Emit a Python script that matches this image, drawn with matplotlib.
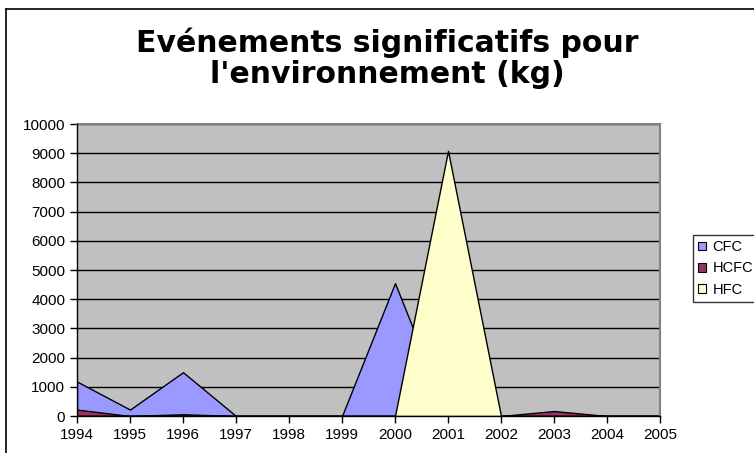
import matplotlib.pyplot as plt
from matplotlib.patches import Patch
from matplotlib.lines import Line2D

years = [1994, 1995, 1996, 1997, 1998, 1999, 2000, 2001, 2002, 2003, 2004, 2005]
cfc = [1180, 220, 1500, 0, 0, 0, 4550, 0, 0, 0, 0, 0]
hcfc = [220, 0, 60, 0, 0, 0, 0, 0, 0, 170, 0, 0]
hfc = [0, 0, 0, 0, 0, 0, 0, 9080, 0, 0, 0, 0]

series_names = ['CFC', 'HCFC', 'HFC']
series_colors = ['#9999FF', '#993366', '#FFFFCC']
y_ticks = list(range(0, 10001, 1000))

TITLE = "Evénements significatifs pour\nl'environnement (kg)"
TICK_FONT = 'Liberation Sans'

fig = plt.figure(figsize=(7.54, 4.53), dpi=100)
ax = fig.add_axes([77 / 754, 1 - 416 / 453, 583 / 754, 292 / 453])

ax.set_facecolor('#C0C0C0')
for vals, color in zip([cfc, hcfc, hfc], series_colors):
    ax.fill_between(years, vals, 0, facecolor=color, edgecolor='black', linewidth=1.0, zorder=2)

ax.set_xlim(years[0], years[-1])
ax.set_ylim(0, 10000)
ax.set_xticks(years)
ax.set_yticks(y_ticks)
ax.set_axisbelow(True)
ax.yaxis.grid(True, color='black', linewidth=1.0)
ax.xaxis.grid(False)

for side in ['top', 'right']:
    ax.spines[side].set_color('#808080')
    ax.spines[side].set_linewidth(1.5)
for side in ['left', 'bottom']:
    ax.spines[side].set_color('black')
    ax.spines[side].set_linewidth(1.0)
    ax.spines[side].set_zorder(3)

ax.tick_params(axis='both', direction='out', length=5, width=1, colors='black', labelsize=11)
for lab in ax.get_xticklabels() + ax.get_yticklabels():
    lab.set_fontfamily(TICK_FONT)

fig.text(387 / 754, 1 - 58 / 453, TITLE, ha='center', va='center', fontsize=21.5,
         fontweight='bold', family='DejaVu Sans', linespacing=1.1)

handles = [Patch(facecolor=c, edgecolor='black', linewidth=0.8) for c in series_colors]
leg = fig.legend(handles, series_names, loc='upper left', bbox_to_anchor=(693 / 754, 1 - 235 / 453),
                 bbox_transform=fig.transFigure, fancybox=False, frameon=True, handlelength=0.55,
                 handleheight=0.55, handletextpad=0.45, borderpad=0.35, labelspacing=0.5,
                 borderaxespad=0, prop={'family': TICK_FONT, 'size': 10.5})
leg.get_frame().set_edgecolor('black')
leg.get_frame().set_linewidth(1.0)

# chart-area border (left and top visible)
fig.add_artist(Line2D([5.5 / 754, 5.5 / 754], [0, 1 - 9 / 453], transform=fig.transFigure, color='black', linewidth=1.2))
fig.add_artist(Line2D([5.5 / 754, 1], [1 - 9 / 453, 1 - 9 / 453], transform=fig.transFigure, color='black', linewidth=1.2))

fig.savefig('out.png', dpi=100)
plt.close(fig)
